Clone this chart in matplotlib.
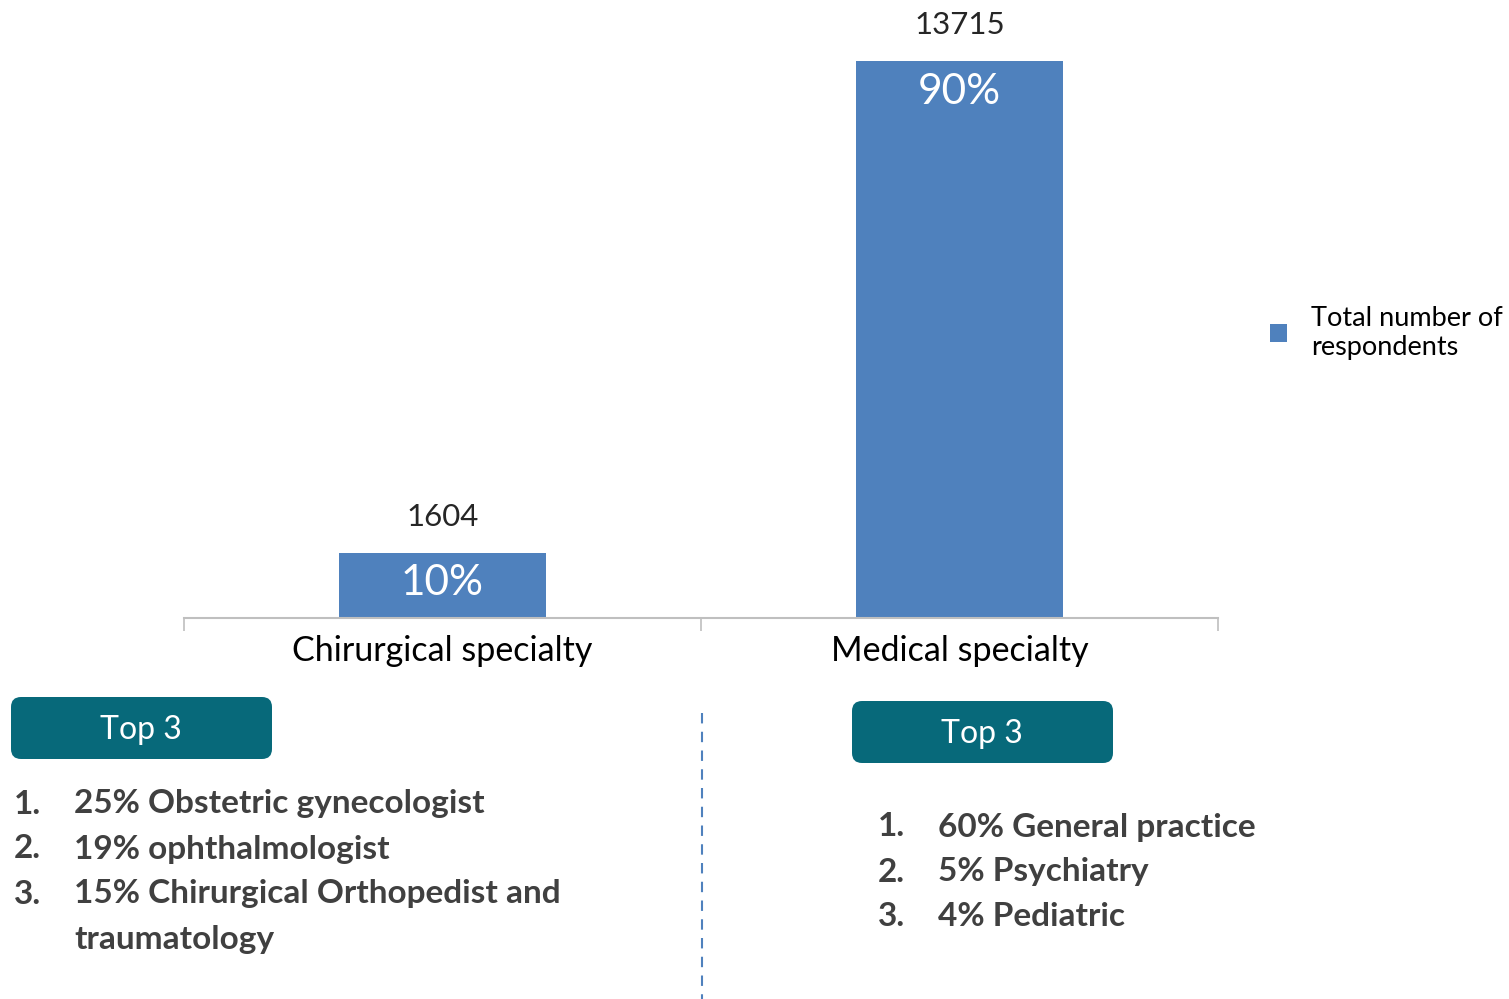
import numpy as np
import matplotlib.pyplot as plt
from matplotlib.patches import FancyBboxPatch

plt.rcParams['font.family'] = ['Lato', 'DejaVu Sans']

categorias = ['Chirurgical specialty', 'Medical specialty']
respondentes = [1604, 13715]
porcentajes = ['10%', '90%']
leyenda = 'Total number of\nrespondents'
top_quirurgico = ['25% Obstetric gynecologist', '19% ophthalmologist',
                  '15% Chirurgical Orthopedist and\ntraumatology']
top_medico = ['60% General practice', '5% Psychiatry', '4% Pediatric']

azul = '#4f81bd'
verde = '#07697a'
gris_texto = '#404040'

W, H = 1509, 999
fig = plt.figure(figsize=(W / 100, H / 100), dpi=100)

# grafico principal
ax = fig.add_axes([184 / W, 1 - 618 / H, (1218 - 184) / W, (618 - 9) / H])
x = np.arange(len(categorias))
ax.bar(x, respondentes, width=0.4, color=azul, label=leyenda, zorder=2)
ax.set_xlim(-0.5, 1.5)
ax.set_ylim(0, 15000)
for s in ['top', 'right', 'left']:
    ax.spines[s].set_visible(False)
ax.spines['bottom'].set_color('#bfbfbf')
ax.spines['bottom'].set_linewidth(1.5)
ax.set_yticks([])
ax.set_xticks(x)
ax.set_xticklabels(categorias, fontsize=24.5, color='black')
ax.tick_params(axis='x', which='major', length=0, pad=12)
ax.set_xticks([-0.5, 0.5, 1.5], minor=True)
ax.tick_params(axis='x', which='minor', length=9, width=1.2, color='#bfbfbf')

for xi, v, p in zip(x, respondentes, porcentajes):
    ax.annotate(str(v), (xi, v), xytext=(0, 26), textcoords='offset points',
                ha='center', va='center', fontsize=22.5, color='#262626')
    ax.annotate(p, (xi, v), xytext=(0, -22), textcoords='offset points',
                ha='center', va='center', fontsize=30.5, color='white')

ax.legend(loc='upper left', bbox_to_anchor=(1.027, 0.553), frameon=False,
          fontsize=19.5, handlelength=0.62, handleheight=0.62, handletextpad=0.9,
          labelspacing=0.3)

# capa de anotaciones en pixeles
capa = fig.add_axes([0, 0, 1, 1], facecolor='none')
capa.set_xlim(0, W)
capa.set_ylim(H, 0)
capa.axis('off')

for (x0, y0) in [(11, 697), (852, 701)]:
    caja = FancyBboxPatch((x0, y0), 261, 62, boxstyle='round,pad=0,rounding_size=10',
                          facecolor=verde, edgecolor='none')
    capa.add_patch(caja)
    capa.text(x0 + 130, y0 + 33, 'Top 3', ha='center', va='center',
              fontsize=23, color='white')

capa.plot([702, 702], [713, 999], color=azul, lw=1.5, ls=(0, (5, 4)))

y = 804
for i, t in enumerate(top_quirurgico):
    capa.text(14, y, f'{i + 1}.', ha='left', va='center', fontsize=24,
              fontweight='bold', color=gris_texto)
    for linea in t.split('\n'):
        capa.text(74, y, linea, ha='left', va='center', fontsize=24,
                  fontweight='bold', color=gris_texto)
        y += 45

y = 827
for i, t in enumerate(top_medico):
    capa.text(878, y, f'{i + 1}.', ha='left', va='center', fontsize=24,
              fontweight='bold', color=gris_texto)
    capa.text(938, y, t, ha='left', va='center', fontsize=24,
              fontweight='bold', color=gris_texto)
    y += 45

fig.savefig('out.png', dpi=100)
